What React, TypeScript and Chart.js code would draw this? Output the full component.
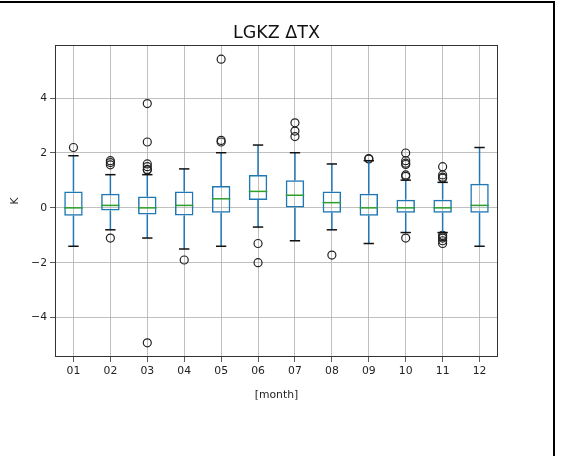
import React, { useEffect, useRef } from "react";
import { Chart, registerables } from "chart.js";

Chart.register(...registerables);

const months = ["01", "02", "03", "04", "05", "06", "07", "08", "09", "10", "11", "12"];
const whiskerLow = [-1.4, -0.8, -1.1, -1.5, -1.4, -0.7, -1.2, -0.8, -1.3, -0.9, -0.9, -1.4];
const q1 = [-0.29, -0.1, -0.24, -0.28, -0.18, 0.29, 0.0, -0.18, -0.29, -0.18, -0.18, -0.18];
const median = [0.0, 0.09, 0.0, 0.09, 0.33, 0.6, 0.46, 0.19, 0.0, 0.0, 0.0, 0.09];
const q3 = [0.6, 0.51, 0.41, 0.6, 0.8, 1.2, 1.01, 0.6, 0.51, 0.3, 0.3, 0.88];
const whiskerHigh = [1.9, 1.21, 1.21, 1.42, 2.01, 2.29, 2.01, 1.6, 1.72, 1.01, 0.93, 2.2];
const outliers: number[][] = [
  [2.2],
  [1.57, 1.65, 1.72, -1.1],
  [3.8, 2.4, 1.6, 1.5, 1.4, 1.38, -4.92],
  [-1.9],
  [5.42, 2.46, 2.4],
  [-1.3, -2.0],
  [3.1, 2.8, 2.6],
  [-1.72],
  [1.78, 1.8],
  [2.0, 1.72, 1.63, 1.58, 1.2, 1.15, -1.1],
  [1.5, 1.2, 1.12, 1.08, -1.0, -1.05, -1.1, -1.2, -1.3],
  [],
];
const yTicks = [-4, -2, 0, 2, 4];
const yTickLabels = ["\u22124", "\u22122", "0", "2", "4"];
const titleText = "LGKZ \u0394TX";
const xTitle = "[month]";
const yTitle = "K";

const BLUE = "#1f77b4";
const GREEN = "#2ca02c";
const FONT = "'DejaVu Sans', sans-serif";

export default function App() {
  const ref = useRef<HTMLCanvasElement | null>(null);

  useEffect(() => {
    if (!ref.current) return;
    const all: number[] = [];
    outliers.forEach((o) => all.push(...o));
    all.push(...whiskerLow, ...whiskerHigh);
    const dMin = Math.min(...all);
    const dMax = Math.max(...all);
    const margin = (dMax - dMin) * 0.05;

    const outlierPoints: { x: string; y: number }[] = [];
    outliers.forEach((arr, i) => arr.forEach((v) => outlierPoints.push({ x: months[i], y: v })));

    const boxParts = {
      id: "boxParts",
      afterDatasetsDraw(chart: any) {
        const { ctx, scales } = chart;
        const x = scales.x;
        const y = scales.y;
        const cat = x.getPixelForValue(1) - x.getPixelForValue(0);
        ctx.save();
        months.forEach((_, i) => {
          const cx = x.getPixelForValue(i);
          const line = (x0: number, y0: number, x1: number, y1: number) => {
            ctx.beginPath();
            ctx.moveTo(x0, y0);
            ctx.lineTo(x1, y1);
            ctx.stroke();
          };
          ctx.lineWidth = 1.5;
          ctx.strokeStyle = BLUE;
          line(cx, y.getPixelForValue(q3[i]), cx, y.getPixelForValue(whiskerHigh[i]));
          line(cx, y.getPixelForValue(q1[i]), cx, y.getPixelForValue(whiskerLow[i]));
          ctx.strokeStyle = "#111";
          const cw = cat * 0.14;
          line(cx - cw, y.getPixelForValue(whiskerHigh[i]), cx + cw, y.getPixelForValue(whiskerHigh[i]));
          line(cx - cw, y.getPixelForValue(whiskerLow[i]), cx + cw, y.getPixelForValue(whiskerLow[i]));
          ctx.strokeStyle = GREEN;
          const bw = cat * 0.25;
          line(cx - bw, y.getPixelForValue(median[i]), cx + bw, y.getPixelForValue(median[i]));
        });
        ctx.restore();
      },
      afterDraw(chart: any) {
        const { ctx, chartArea } = chart;
        ctx.save();
        ctx.strokeStyle = "#333";
        ctx.lineWidth = 1;
        ctx.strokeRect(
          Math.round(chartArea.left) + 0.5,
          Math.round(chartArea.top) + 0.5,
          Math.round(chartArea.right - chartArea.left) - 1,
          Math.round(chartArea.bottom - chartArea.top) - 1
        );
        ctx.restore();
      },
    };

    const chart = new Chart(ref.current, {
      type: "bar",
      data: {
        labels: months,
        datasets: [
          {
            type: "bar",
            data: months.map((_, i) => [q1[i], q3[i]]) as any,
            backgroundColor: "rgba(0,0,0,0)",
            borderColor: BLUE,
            borderWidth: 1.5,
            borderSkipped: false,
            categoryPercentage: 1,
            barPercentage: 0.5,
          } as any,
          {
            type: "line",
            data: outlierPoints as any,
            showLine: false,
            pointRadius: 4,
            pointBorderWidth: 1.2,
            pointBorderColor: "#222",
            pointBackgroundColor: "rgba(0,0,0,0)",
            pointStyle: "circle",
          } as any,
        ],
      },
      options: {
        responsive: false,
        animation: false,
        devicePixelRatio: 1,
        events: [],
        layout: { padding: { left: 0, right: 75, top: 0, bottom: 54 } },
        plugins: {
          legend: { display: false },
          tooltip: { enabled: false },
          title: {
            display: true,
            text: titleText,
            fullSize: false,
            color: "#111",
            font: { family: FONT, size: 17.5, weight: "normal", lineHeight: 1.2 },
            padding: { top: 22.5, bottom: 1.5 },
          },
        },
        scales: {
          x: {
            type: "category",
            offset: true,
            grid: {
              display: true,
              offset: false,
              color: "#b0b0b0",
              lineWidth: 0.8,
              drawTicks: true,
              tickLength: 5,
              tickColor: "#333",
            },
            border: { display: false },
            ticks: {
              color: "#222",
              font: { family: FONT, size: 10.8 },
              padding: 3,
              maxRotation: 0,
            },
            title: {
              display: true,
              text: xTitle,
              color: "#222",
              font: { family: FONT, size: 10.8, lineHeight: 1.2 },
              padding: { top: 0, bottom: 0.5 },
            },
            afterFit: (s: any) => {
              s.height = 45;
            },
          },
          y: {
            type: "linear",
            min: dMin - margin,
            max: dMax + margin,
            afterBuildTicks: (s: any) => {
              s.ticks = yTicks.map((v) => ({ value: v }));
            },
            grid: {
              color: "#b0b0b0",
              lineWidth: 0.8,
              drawTicks: true,
              tickLength: 5,
              tickColor: "#333",
            },
            border: { display: false },
            ticks: {
              color: "#222",
              font: { family: FONT, size: 10.8 },
              padding: 3,
              callback: (_v: any, idx: number) => yTickLabels[idx],
            },
            title: {
              display: true,
              text: yTitle,
              color: "#222",
              font: { family: FONT, size: 10.8, lineHeight: 1.2 },
              padding: { top: 8.5, bottom: 0 },
            },
            afterFit: (s: any) => {
              s.width = 55;
            },
          },
        },
      },
      plugins: [boxParts],
    });
    return () => chart.destroy();
  }, []);

  return (
    <div style={{ position: "fixed", left: 0, top: 0, width: 573, height: 456, background: "#fff" }}>
      <canvas ref={ref} width={573} height={456} style={{ width: 573, height: 456, display: "block" }} />
      <div style={{ position: "absolute", left: 0, top: 1, width: 555, height: 2, background: "#000" }} />
      <div style={{ position: "absolute", left: 553, top: 3, width: 2, height: 453, background: "#000" }} />
    </div>
  );
}
